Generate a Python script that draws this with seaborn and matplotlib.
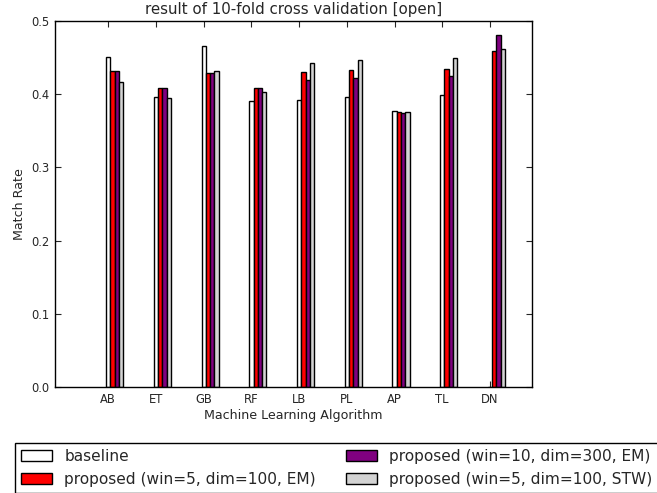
import numpy as np
import pandas as pd
import matplotlib
matplotlib.use("Agg")
import matplotlib.pyplot as plt
import seaborn as sns

algorithms = ["AB", "ET", "GB", "RF", "LB", "PL", "AP", "TL", "DN"]
series_names = [
    "baseline",
    "proposed (win=5, dim=100, EM)",
    "proposed (win=10, dim=300, EM)",
    "proposed (win=5, dim=100, STW)",
]
baseline = [0.451, 0.396, 0.466, 0.391, 0.392, 0.396, 0.377, 0.399, 0.0]
win5_em = [0.432, 0.408, 0.429, 0.408, 0.430, 0.433, 0.376, 0.434, 0.459]
win10_em = [0.432, 0.408, 0.429, 0.408, 0.419, 0.422, 0.374, 0.425, 0.480]
win5_stw = [0.417, 0.395, 0.431, 0.403, 0.443, 0.446, 0.375, 0.449, 0.461]
colors = ["white", "red", "purple", "lightgray"]

rows = []
for name, vals in zip(series_names, [baseline, win5_em, win10_em, win5_stw]):
    for alg, v in zip(algorithms, vals):
        rows.append({"Algorithm": alg, "Series": name, "Match Rate": v})
df = pd.DataFrame(rows)

sns.set_style("white")
plt.rcParams.update({
    "xtick.direction": "in", "ytick.direction": "in",
    "xtick.top": True, "ytick.right": True,
    "xtick.bottom": True, "ytick.left": True,
    "xtick.major.size": 4, "ytick.major.size": 4,
    "axes.edgecolor": "black", "axes.linewidth": 1.0,
})
plt.rcParams["font.family"] = ["DejaVu Sans"]

fig = plt.figure(figsize=(6.57, 4.93), dpi=100)
ax = fig.add_axes([0.0842, 0.2142, 0.7251, 0.7438])

sns.barplot(data=df, x="Algorithm", y="Match Rate", hue="Series",
            hue_order=series_names, order=algorithms,
            palette=dict(zip(series_names, colors)), saturation=1,
            edgecolor="black", linewidth=1, width=0.36, dodge=True,
            errorbar=None, ax=ax)

w = 0.09
ax.set_xticks(np.arange(len(algorithms)) - 1.5 * w)
ax.set_xticklabels(algorithms)
ax.set_xlim(-1.245, 8.741)
ax.set_ylim(0, 0.5)
ax.set_yticks([0.0, 0.1, 0.2, 0.3, 0.4, 0.5])
ax.set_yticklabels(["0.0", "0.1", "0.2", "0.3", "0.4", "0.5"])
ax.tick_params(labelsize=8.3, pad=4)
ax.set_xlabel("Machine Learning Algorithm", fontsize=9.1, labelpad=2)
ax.set_ylabel("Match Rate", fontsize=9.1, labelpad=4)
ax.set_title("result of 10-fold cross validation [open]", fontsize=10.8, pad=5)

handles, labels = ax.get_legend_handles_labels()
if ax.get_legend() is not None:
    ax.get_legend().remove()
fig.legend(handles, labels, ncol=2, loc="upper left",
           bbox_to_anchor=(15 / 657, 1 - 443 / 493), borderaxespad=0,
           fontsize=11.1, frameon=True, fancybox=False, edgecolor="black",
           framealpha=1, columnspacing=1.95, handlelength=2.0)

fig.savefig("out.png", dpi=100)
